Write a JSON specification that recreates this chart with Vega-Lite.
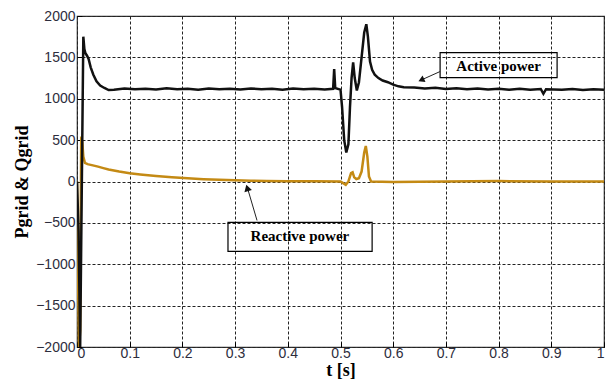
{
  "$schema": "https://vega.github.io/schema/vega-lite/v6.json",
  "width": 527,
  "height": 331,
  "autosize": "none",
  "padding": {"left": 77, "top": 16, "right": 4, "bottom": 37},
  "background": "white",
  "config": {
    "view": {"stroke": "#333", "strokeWidth": 1.2},
    "axis": {
      "grid": true,
      "gridColor": "#222",
      "gridDash": [3, 2],
      "gridWidth": 1,
      "gridOpacity": 1,
      "domain": false,
      "ticks": true,
      "tickSize": -5,
      "tickColor": "#000",
      "labelFont": "Liberation Sans",
      "labelFontSize": 14,
      "labelColor": "#2d2d3d",
      "titleFont": "Liberation Serif",
      "titleFontWeight": "bold",
      "titleFontSize": 18,
      "titleColor": "#000"
    }
  },
  "layer": [
    {
      "data": {"values": [
        {"t": 0, "p": 0, "s": "Reactive"},
        {"t": 0.002, "p": -1200, "s": "Reactive"},
        {"t": 0.004, "p": -2000, "s": "Reactive"},
        {"t": 0.006, "p": -1800, "s": "Reactive"},
        {"t": 0.008, "p": 500, "s": "Reactive"},
        {"t": 0.010, "p": 480, "s": "Reactive"},
        {"t": 0.012, "p": 300, "s": "Reactive"},
        {"t": 0.015, "p": 225, "s": "Reactive"},
        {"t": 0.02, "p": 210, "s": "Reactive"},
        {"t": 0.03, "p": 195, "s": "Reactive"},
        {"t": 0.04, "p": 180, "s": "Reactive"},
        {"t": 0.05, "p": 162, "s": "Reactive"},
        {"t": 0.06, "p": 145, "s": "Reactive"},
        {"t": 0.08, "p": 120, "s": "Reactive"},
        {"t": 0.1, "p": 100, "s": "Reactive"},
        {"t": 0.12, "p": 85, "s": "Reactive"},
        {"t": 0.15, "p": 66, "s": "Reactive"},
        {"t": 0.18, "p": 50, "s": "Reactive"},
        {"t": 0.21, "p": 38, "s": "Reactive"},
        {"t": 0.24, "p": 28, "s": "Reactive"},
        {"t": 0.27, "p": 20, "s": "Reactive"},
        {"t": 0.3, "p": 14, "s": "Reactive"},
        {"t": 0.33, "p": 9, "s": "Reactive"},
        {"t": 0.36, "p": 5, "s": "Reactive"},
        {"t": 0.4, "p": 3, "s": "Reactive"},
        {"t": 0.45, "p": 2, "s": "Reactive"},
        {"t": 0.5, "p": 0, "s": "Reactive"},
        {"t": 0.505, "p": -20, "s": "Reactive"},
        {"t": 0.51, "p": -40, "s": "Reactive"},
        {"t": 0.515, "p": 0, "s": "Reactive"},
        {"t": 0.52, "p": 100, "s": "Reactive"},
        {"t": 0.523, "p": 110, "s": "Reactive"},
        {"t": 0.526, "p": 50, "s": "Reactive"},
        {"t": 0.53, "p": 30, "s": "Reactive"},
        {"t": 0.535, "p": 40, "s": "Reactive"},
        {"t": 0.54, "p": 120, "s": "Reactive"},
        {"t": 0.545, "p": 350, "s": "Reactive"},
        {"t": 0.548, "p": 430, "s": "Reactive"},
        {"t": 0.551, "p": 300, "s": "Reactive"},
        {"t": 0.554, "p": 60, "s": "Reactive"},
        {"t": 0.558, "p": 0, "s": "Reactive"},
        {"t": 0.6, "p": -5, "s": "Reactive"},
        {"t": 0.7, "p": 0, "s": "Reactive"},
        {"t": 0.8, "p": 5, "s": "Reactive"},
        {"t": 0.9, "p": 0, "s": "Reactive"},
        {"t": 1.0, "p": 0, "s": "Reactive"},
        {"t": 0, "p": 0, "s": "Active"},
        {"t": 0.003, "p": -600, "s": "Active"},
        {"t": 0.006, "p": -2000, "s": "Active"},
        {"t": 0.010, "p": 500, "s": "Active"},
        {"t": 0.012, "p": 1750, "s": "Active"},
        {"t": 0.014, "p": 1600, "s": "Active"},
        {"t": 0.016, "p": 1550, "s": "Active"},
        {"t": 0.019, "p": 1520, "s": "Active"},
        {"t": 0.022, "p": 1480, "s": "Active"},
        {"t": 0.026, "p": 1380, "s": "Active"},
        {"t": 0.031, "p": 1290, "s": "Active"},
        {"t": 0.037, "p": 1210, "s": "Active"},
        {"t": 0.044, "p": 1160, "s": "Active"},
        {"t": 0.052, "p": 1130, "s": "Active"},
        {"t": 0.06, "p": 1105, "s": "Active"},
        {"t": 0.07, "p": 1110, "s": "Active"},
        {"t": 0.09, "p": 1125, "s": "Active"},
        {"t": 0.11, "p": 1115, "s": "Active"},
        {"t": 0.13, "p": 1122, "s": "Active"},
        {"t": 0.15, "p": 1112, "s": "Active"},
        {"t": 0.17, "p": 1126, "s": "Active"},
        {"t": 0.19, "p": 1114, "s": "Active"},
        {"t": 0.21, "p": 1121, "s": "Active"},
        {"t": 0.23, "p": 1110, "s": "Active"},
        {"t": 0.25, "p": 1124, "s": "Active"},
        {"t": 0.27, "p": 1116, "s": "Active"},
        {"t": 0.29, "p": 1122, "s": "Active"},
        {"t": 0.31, "p": 1112, "s": "Active"},
        {"t": 0.33, "p": 1125, "s": "Active"},
        {"t": 0.35, "p": 1115, "s": "Active"},
        {"t": 0.37, "p": 1120, "s": "Active"},
        {"t": 0.39, "p": 1110, "s": "Active"},
        {"t": 0.41, "p": 1124, "s": "Active"},
        {"t": 0.43, "p": 1116, "s": "Active"},
        {"t": 0.45, "p": 1121, "s": "Active"},
        {"t": 0.47, "p": 1113, "s": "Active"},
        {"t": 0.486, "p": 1120, "s": "Active"},
        {"t": 0.488, "p": 1360, "s": "Active"},
        {"t": 0.490, "p": 1130, "s": "Active"},
        {"t": 0.495, "p": 1120, "s": "Active"},
        {"t": 0.5, "p": 1110, "s": "Active"},
        {"t": 0.503, "p": 900, "s": "Active"},
        {"t": 0.507, "p": 500, "s": "Active"},
        {"t": 0.511, "p": 350, "s": "Active"},
        {"t": 0.515, "p": 450, "s": "Active"},
        {"t": 0.518, "p": 900, "s": "Active"},
        {"t": 0.521, "p": 1250, "s": "Active"},
        {"t": 0.524, "p": 1440, "s": "Active"},
        {"t": 0.527, "p": 1250, "s": "Active"},
        {"t": 0.531, "p": 1100, "s": "Active"},
        {"t": 0.535, "p": 1200, "s": "Active"},
        {"t": 0.54, "p": 1500, "s": "Active"},
        {"t": 0.545, "p": 1800, "s": "Active"},
        {"t": 0.549, "p": 1900, "s": "Active"},
        {"t": 0.552, "p": 1750, "s": "Active"},
        {"t": 0.556, "p": 1450, "s": "Active"},
        {"t": 0.56, "p": 1350, "s": "Active"},
        {"t": 0.565, "p": 1290, "s": "Active"},
        {"t": 0.572, "p": 1250, "s": "Active"},
        {"t": 0.58, "p": 1220, "s": "Active"},
        {"t": 0.59, "p": 1200, "s": "Active"},
        {"t": 0.6, "p": 1170, "s": "Active"},
        {"t": 0.61, "p": 1150, "s": "Active"},
        {"t": 0.62, "p": 1140, "s": "Active"},
        {"t": 0.64, "p": 1135, "s": "Active"},
        {"t": 0.66, "p": 1125, "s": "Active"},
        {"t": 0.68, "p": 1132, "s": "Active"},
        {"t": 0.70, "p": 1118, "s": "Active"},
        {"t": 0.72, "p": 1128, "s": "Active"},
        {"t": 0.74, "p": 1115, "s": "Active"},
        {"t": 0.76, "p": 1125, "s": "Active"},
        {"t": 0.78, "p": 1112, "s": "Active"},
        {"t": 0.80, "p": 1122, "s": "Active"},
        {"t": 0.82, "p": 1110, "s": "Active"},
        {"t": 0.84, "p": 1120, "s": "Active"},
        {"t": 0.86, "p": 1108, "s": "Active"},
        {"t": 0.88, "p": 1118, "s": "Active"},
        {"t": 0.885, "p": 1060, "s": "Active"},
        {"t": 0.89, "p": 1115, "s": "Active"},
        {"t": 0.92, "p": 1110, "s": "Active"},
        {"t": 0.94, "p": 1118, "s": "Active"},
        {"t": 0.96, "p": 1105, "s": "Active"},
        {"t": 0.98, "p": 1115, "s": "Active"},
        {"t": 1.0, "p": 1108, "s": "Active"}
      ]},
      "mark": {"type": "line", "strokeWidth": 2.5, "clip": true},
      "encoding": {
        "x": {"field": "t", "type": "quantitative", "scale": {"domain": [0, 1], "nice": false},
              "axis": {"values": [0, 0.1, 0.2, 0.3, 0.4, 0.5, 0.6, 0.7, 0.8, 0.9, 1], "format": "~g", "title": "t [s]", "titlePadding": 1, "labelPadding": 4}},
        "y": {"field": "p", "type": "quantitative", "scale": {"domain": [-2000, 2000], "nice": false},
              "axis": {"values": [-2000, -1500, -1000, -500, 0, 500, 1000, 1500, 2000], "format": "d", "title": "Pgrid & Qgrid", "labelPadding": 7, "titlePadding": 4}},
        "color": {"field": "s", "type": "nominal", "scale": {"domain": ["Active", "Reactive"], "range": ["#111111", "#c48a14"]}, "legend": null},
        "order": {"field": "t", "type": "quantitative"}
      }
    },
    {
      "data": {"values": [
        {"x1": 0.689, "x2": 0.911, "y1": 1256, "y2": 1558, "label": "Active power", "xc": 0.80, "yc": 1395},
        {"x1": 0.2865, "x2": 0.560, "y1": -845, "y2": -495, "label": "Reactive power", "xc": 0.423, "yc": -664}
      ]},
      "layer": [
        {
          "mark": {"type": "rect", "fill": null, "fillOpacity": 0, "stroke": "#000", "strokeWidth": 1.2},
          "encoding": {
            "x": {"field": "x1", "type": "quantitative"},
            "x2": {"field": "x2"},
            "y": {"field": "y1", "type": "quantitative"},
            "y2": {"field": "y2"}
          }
        },
        {
          "mark": {"type": "text", "font": "Liberation Serif", "fontWeight": "bold", "fontSize": 15, "color": "#000", "align": "center", "baseline": "middle"},
          "encoding": {
            "x": {"field": "xc", "type": "quantitative"},
            "y": {"field": "yc", "type": "quantitative"},
            "text": {"field": "label"}
          }
        }
      ]
    },
    {
      "data": {"values": [
        {"x1": 0.689, "y1": 1329, "x2": 0.651, "y2": 1220},
        {"x1": 0.3416, "y1": -471, "x2": 0.3226, "y2": -60}
      ]},
      "mark": {"type": "rule", "color": "#222", "strokeWidth": 1},
      "encoding": {
        "x": {"field": "x1", "type": "quantitative"},
        "y": {"field": "y1", "type": "quantitative"},
        "x2": {"field": "x2"},
        "y2": {"field": "y2"}
      }
    },
    {
      "data": {"values": [{"x": 0.655, "y": 1232}]},
      "mark": {"type": "point", "shape": "triangle", "filled": true, "color": "#111", "size": 50, "angle": 246, "opacity": 1},
      "encoding": {
        "x": {"field": "x", "type": "quantitative"},
        "y": {"field": "y", "type": "quantitative"}
      }
    },
    {
      "data": {"values": [{"x": 0.3236, "y": -90}]},
      "mark": {"type": "point", "shape": "triangle", "filled": true, "color": "#111", "size": 60, "angle": 344, "opacity": 1},
      "encoding": {
        "x": {"field": "x", "type": "quantitative"},
        "y": {"field": "y", "type": "quantitative"}
      }
    }
  ]
}
